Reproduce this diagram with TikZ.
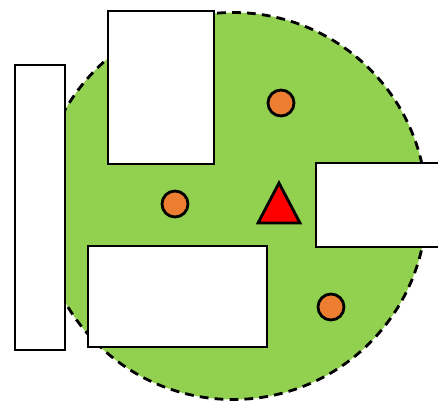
\documentclass[tikz,border=0pt]{standalone}
\usepackage{tikz}
\definecolor{fieldgreen}{RGB}{146,208,80}
\definecolor{ballorange}{RGB}{237,125,49}
\tikzset{
  wall/.style={draw=black, fill=white, line width=1.6pt},
  ball/.style={draw=black, fill=ballorange, line width=1.6pt},
}
\begin{document}
\begin{tikzpicture}[x=0.02cm, y=-0.02cm]
        \useasboundingbox (0,0) rectangle (438,402);
        \clip (0,0) rectangle (438,402);
        \fill[color=fieldgreen] (233,206) circle (193.5);
        \draw[line width=1.6pt, dash pattern=on 5pt off 3.5pt] (233,206) circle (193.5);
        \draw[wall] (15,65) rectangle (65,350); \draw[wall] (108,11) rectangle (214,164); \draw[wall] (316,163) rectangle (460,247); \draw[wall] (88,246) rectangle (267,347);
        \draw[ball] (281,103) circle (13); \draw[ball] (175,204) circle (13); \draw[ball] (331,307) circle (13);
        \draw[line width=1.6pt, fill=red] (279,183) -- (300,223) -- (258,223) -- cycle;
    \end{tikzpicture}
\end{document}
